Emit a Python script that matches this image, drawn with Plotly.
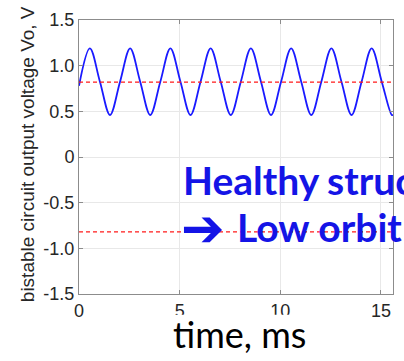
import plotly.graph_objects as go

# time (ms) and output voltage (V) read at peaks / mean crossings / troughs
t_ms = [0.0, 0.54, 1.04, 1.54, 2.04, 2.54, 3.04, 3.54, 4.04, 4.54, 5.04, 5.54,
        6.04, 6.54, 7.04, 7.54, 8.04, 8.54, 9.04, 9.54, 10.04, 10.54, 11.04,
        11.54, 12.04, 12.54, 13.04, 13.54, 14.04, 14.54, 15.04, 15.54, 15.6]
vo = [0.78, 1.19, 0.825, 0.46, 0.825, 1.19, 0.825, 0.46, 0.825, 1.19, 0.825, 0.46,
      0.825, 1.19, 0.825, 0.46, 0.825, 1.19, 0.825, 0.46, 0.825, 1.19, 0.825,
      0.46, 0.825, 1.19, 0.825, 0.46, 0.825, 1.19, 0.825, 0.46, 0.462]
threshold_levels = [0.82, -0.82]
x_range = [0, 15.6]
y_ticks = [1.5, 1.0, 0.5, 0, -0.5, -1.0, -1.5]
y_tick_labels = ["1.5", "1.0", "0.5", "0", "-0.5", "-1.0", "-1.5"]
x_ticks = [0, 5, 10, 15]
x_tick_labels = ["0", "5", "10", "15"]

W, H = 404, 361
L, R, T, B = 79, 10, 18, 67
pw, ph = W - L - R, H - T - B


def px(x):
    return (x - L) / pw


def py(y):
    return (H - B - y) / ph


fig = go.Figure()
fig.add_trace(go.Scatter(x=t_ms, y=vo, mode="lines",
                         line=dict(color="#1a1aff", width=1.8, shape="spline", smoothing=1.0),
                         showlegend=False, hoverinfo="skip"))
for lv in threshold_levels:
    fig.add_trace(go.Scatter(x=x_range, y=[lv, lv], mode="lines",
                             line=dict(color="#ff1a1a", width=1.3, dash="4px,3px"),
                             showlegend=False, hoverinfo="skip"))

axis_common = dict(showgrid=True, gridcolor="#e8e8e8", gridwidth=1,
                   showline=True, linecolor="#8c8c8c", linewidth=1, mirror="ticks",
                   ticks="inside", ticklen=4, tickcolor="#8c8c8c", zeroline=False,
                   tickfont=dict(family="Liberation Sans, Arial", size=18, color="#262626"))

blue = "#1414e6"
big = dict(family="Lato", size=39, color=blue)
fig.update_layout(
    width=W, height=H,
    margin=dict(l=L, r=R, t=T, b=B),
    paper_bgcolor="white", plot_bgcolor="white",
    xaxis=dict(range=x_range, tickvals=x_ticks, ticktext=x_tick_labels, **axis_common),
    yaxis=dict(range=[-1.5, 1.5], tickvals=y_ticks, ticktext=y_tick_labels, **axis_common),
    shapes=[
        # white text box behind the x title (hides lower part of middle tick labels)
        dict(type="rect", xref="paper", yref="paper", layer="above",
             x0=px(168), x1=px(312), y0=py(361), y1=py(315),
             fillcolor="white", line=dict(width=0)),
    ],
    annotations=[
        dict(text="bistable circuit output voltage Vo, V", xref="paper", yref="paper",
             x=px(27), y=py(153), xanchor="center", yanchor="middle", textangle=-90,
             showarrow=False, font=dict(family="Liberation Sans, Arial", size=19, color="#262626")),
        dict(text="time, ms", xref="paper", yref="paper", x=px(240), y=py(334),
             xanchor="center", yanchor="middle", showarrow=False,
             font=dict(family="Lato", size=36, color="black")),
        dict(text="<b>Healthy</b>", xref="paper", yref="paper", x=px(181),
             y=py(179), xanchor="left", yanchor="middle", showarrow=False, font=big),
        dict(text="<b>struc</b>", xref="paper", yref="paper", x=px(326),
             y=py(179), xanchor="left", yanchor="middle", showarrow=False, font=big),
        dict(text="<b>➔</b>", xref="paper", yref="paper", x=px(203),
             y=py(228), xanchor="center", yanchor="middle", showarrow=False,
             font=dict(family="DejaVu Sans", size=52, color=blue)),
        dict(text="<b>Low orbit</b>", xref="paper", yref="paper", x=px(235),
             y=py(227), xanchor="left", yanchor="middle", showarrow=False, font=big),
    ],
)

fig.write_html("out.html")
